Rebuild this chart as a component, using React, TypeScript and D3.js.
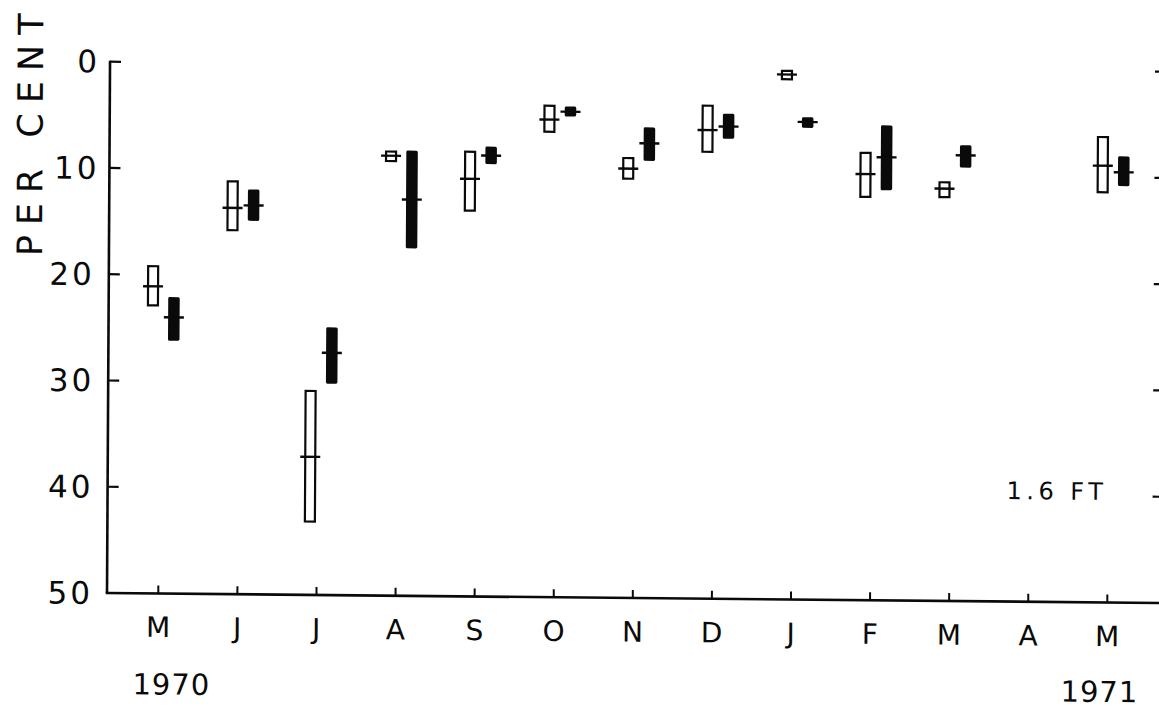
import React from 'react';
import * as d3 from 'd3';

// ---- data ----
const months = ["M", "J", "J", "A", "S", "O", "N", "D", "J", "F", "M", "A", "M"];
const yearLabels = ["1970", "1971"];
const yTicks = [0, 10, 20, 30, 40, 50];
const seriesLabel = "1.6 FT";
const axisTitle = "PER CENT";

// open bars: range top / bottom and mean (per cent)
const openTop: (number | null)[] = [19.1, 11.05, 30.7, 8.1, 8.05, 3.65, 8.5, 3.5, 0.15, 7.8, 10.5, null, 6.1];
const openBottom: (number | null)[] = [23.0, 15.85, 43.2, 9.2, 13.8, 6.3, 10.65, 8.05, 1.15, 12.15, 12.1, null, 11.5];
const openMean: (number | null)[] = [21.1, 13.65, 37.0, 8.6, 10.7, 5.05, 9.6, 5.9, 0.6, 9.9, 11.2, null, 8.9];

// filled bars
const filledTop: (number | null)[] = [22.1, 11.9, 24.8, 8.1, 7.65, 3.8, 5.7, 4.35, 4.6, 5.3, 7.1, null, 8.0];
const filledBottom: (number | null)[] = [26.2, 14.85, 30.1, 17.3, 9.3, 4.75, 8.85, 6.7, 5.6, 11.4, 9.2, null, 10.8];
const filledMean: (number | null)[] = [24.0, 13.4, 27.2, 12.7, 8.5, 4.3, 7.2, 5.55, 5.05, 8.3, 8.05, null, 9.5];

const W = 1159;
const H = 708;
const FONT = "'DejaVu Sans', sans-serif";
const INK = "#0a0a0a";

export default function App() {
  const x0 = 107;
  const y0 = 593;
  const xRight = 1161;
  const y = d3.scaleLinear().domain([0, 50]).range([61.7, y0]);
  const x = d3.scaleLinear().domain([0, months.length - 1]).range([158.3, 1107.3]);

  const openOff = -7;
  const filledOff = 14;
  const openW = 10;
  const filledW = 11.5;
  const meanW = 20;

  const idx = months.map((_, i) => i);

  return (
    <svg width={W} height={H} style={{ position: 'absolute', left: 0, top: 0, background: '#fff' }}>
      <rect x={0} y={0} width={W} height={H} fill="#fff" />
      <g transform={`translate(${x0},${y0}) matrix(1,0.0095,-0.0057,1,0,0) translate(${-x0},${-y0})`}>
        {/* axis title */}
        <text
          transform={`translate(40,257) rotate(-90)`}
          fontFamily={FONT}
          fontSize={35}
          letterSpacing={10}
          fill={INK}
        >
          {axisTitle}
        </text>

        {/* left axis */}
        <line x1={x0} x2={x0} y1={y(0) - 1} y2={y0} stroke={INK} strokeWidth={2.6} />
        {yTicks.map((t) => (
          <g key={'yt' + t}>
            {t < 50 && <line x1={x0} x2={x0 + 11} y1={y(t)} y2={y(t)} stroke={INK} strokeWidth={2.2} />}
            <text
              x={t < 20 ? 94 : 90}
              y={y(t) + 11}
              textAnchor="end"
              fontFamily={FONT}
              fontSize={31}
              letterSpacing={3}
              dx={3}
              fill={INK}
            >
              {t}
            </text>
          </g>
        ))}

        {/* right axis ticks */}
        {yTicks.slice(0, 5).map((t) => (
          <line key={'rt' + t} x1={xRight - 9} x2={xRight} y1={y(t)} y2={y(t)} stroke={INK} strokeWidth={2.2} />
        ))}
        <line x1={xRight} x2={xRight} y1={y(0)} y2={y0} stroke={INK} strokeWidth={2} />

        {/* bottom axis */}
        <line x1={x0 - 1.3} x2={xRight} y1={y0} y2={y0} stroke={INK} strokeWidth={2.6} />
        {idx.map((i) => (
          <g key={'xt' + i}>
            <line x1={x(i)} x2={x(i)} y1={y0} y2={y0 - 8} stroke={INK} strokeWidth={2} />
            <text x={x(i)} y={636.5} textAnchor="middle" fontFamily={FONT} fontSize={28} fill={INK}>
              {months[i]}
            </text>
          </g>
        ))}
        <text x={133} y={694} fontFamily={FONT} fontSize={29} letterSpacing={1} fill={INK}>
          {yearLabels[0]}
        </text>
        <text x={1061} y={692.5} fontFamily={FONT} fontSize={29} letterSpacing={1} fill={INK}>
          {yearLabels[1]}
        </text>

        {/* open bars */}
        {idx.map((i) => {
          const t = openTop[i], b = openBottom[i], m = openMean[i];
          if (t == null || b == null || m == null) return null;
          const cx = x(i) + openOff;
          return (
            <g key={'ob' + i}>
              <rect
                x={cx - openW / 2}
                y={y(t) + 1.1}
                width={openW}
                height={Math.max(1, y(b) - y(t) - 2.2)}
                fill="#fff"
                stroke={INK}
                strokeWidth={2.2}
              />
              <line x1={cx - meanW / 2} x2={cx + meanW / 2} y1={y(m)} y2={y(m)} stroke={INK} strokeWidth={2.4} />
            </g>
          );
        })}

        {/* filled bars */}
        {idx.map((i) => {
          const t = filledTop[i], b = filledBottom[i], m = filledMean[i];
          if (t == null || b == null || m == null) return null;
          const cx = x(i) + filledOff;
          return (
            <g key={'fb' + i}>
              <rect
                x={cx - filledW / 2}
                y={y(t)}
                width={filledW}
                height={y(b) - y(t)}
                rx={1.5}
                fill={INK}
              />
              <line x1={cx - meanW / 2} x2={cx + meanW / 2} y1={y(m)} y2={y(m)} stroke={INK} strokeWidth={2.4} />
            </g>
          );
        })}

        {/* series label */}
        <text x={1006} y={490.5} fontFamily={FONT} fontSize={24} letterSpacing={4.5} fill={INK}>
          {seriesLabel}
        </text>
      </g>
    </svg>
  );
}
